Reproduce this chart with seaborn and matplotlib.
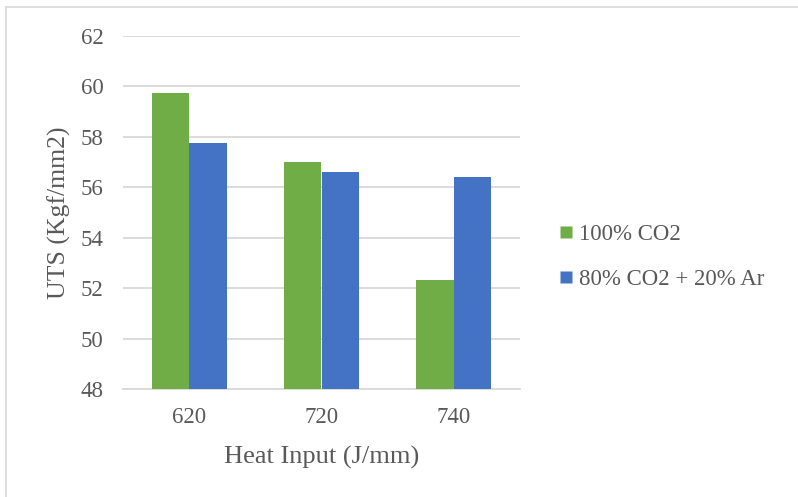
import matplotlib
matplotlib.use("Agg")
import matplotlib.pyplot as plt
import seaborn as sns
import pandas as pd
from matplotlib.lines import Line2D

heat_inputs = ["620", "720", "740"]
gas_mixes = ["100% CO2", "80% CO2 + 20% Ar"]
uts_co2 = [59.75, 57.0, 52.33]
uts_co2_ar = [57.76, 56.61, 56.40]

df = pd.DataFrame({
    "heat": heat_inputs * 2,
    "gas": [gas_mixes[0]] * 3 + [gas_mixes[1]] * 3,
    "uts": uts_co2 + uts_co2_ar,
})

sns.set_theme(style="white")
plt.rcParams["font.family"] = ["Liberation Serif", "DejaVu Serif"]

fig = plt.figure(figsize=(7.98, 4.97), dpi=100)
ax = fig.add_axes([123 / 798, 1 - 389 / 497, (520 - 123) / 798, (389 - 36) / 497])

palette = {gas_mixes[0]: "#70ad47", gas_mixes[1]: "#4472c4"}
sns.barplot(data=df, x="heat", y="uts", hue="gas", palette=palette,
            width=0.567, saturation=1, ax=ax, legend=False, zorder=3)
for p in ax.patches:
    p.set_edgecolor("none")

ax.set_ylim(48, 62)
ax.set_yticks(range(48, 63, 2))
ax.yaxis.grid(True, color="#d9d9d9", linewidth=1.3, zorder=0)
ax.set_axisbelow(True)
for s in ["top", "right", "left"]:
    ax.spines[s].set_visible(False)
ax.spines["bottom"].set_color("#d9d9d9")
ax.spines["bottom"].set_linewidth(1.3)
ax.tick_params(axis="both", length=0, labelsize=16.5, colors="#595959")
ax.tick_params(axis="y", pad=14)
ax.tick_params(axis="x", pad=13)
ax.set_xlabel("Heat Input (J/mm)", fontsize=19, color="#595959", labelpad=13)
ax.set_ylabel("UTS (Kgf/mm2)", fontsize=18.5, color="#595959", labelpad=7)

handles = [Line2D([], [], marker="s", linestyle="none", markersize=8,
                  markerfacecolor=palette[g], markeredgecolor="none")
           for g in gas_mixes]
fig.legend(handles, gas_mixes, loc="center left", bbox_to_anchor=(534 / 798, 1 - 257 / 497),
           frameon=False, fontsize=16.5, labelcolor="#595959",
           handletextpad=0.05, labelspacing=1.05, handlelength=1.0)

# outer frame: top and left edges
fig.add_artist(Line2D([6 / 798, 1.0], [1 - 7 / 497, 1 - 7 / 497], color="#d9d9d9", linewidth=1.2))
fig.add_artist(Line2D([6 / 798, 6 / 798], [0, 1 - 7 / 497], color="#d9d9d9", linewidth=1.2))

fig.savefig("out.png", dpi=100, facecolor="white")
